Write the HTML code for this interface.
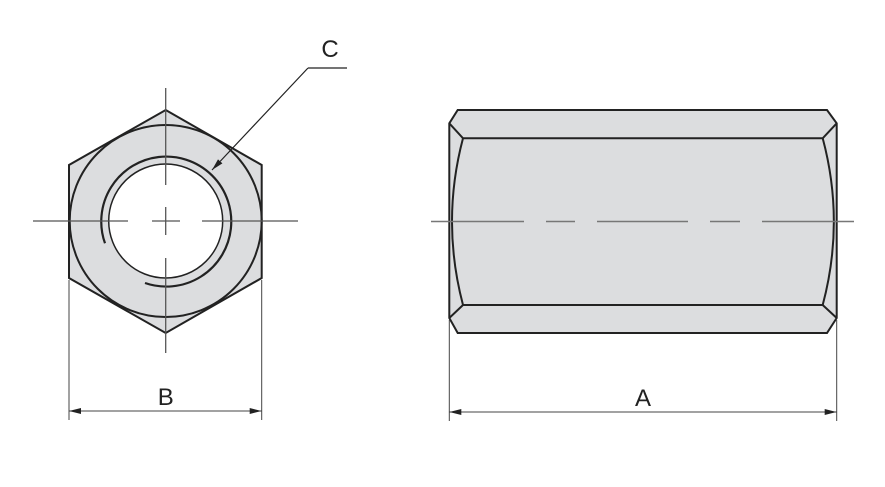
<!DOCTYPE html>
<html><head><style>
html,body{margin:0;padding:0;background:#fff;}
svg{display:block;}
text{font-family:"Liberation Sans",sans-serif;fill:#222;}
</style></head><body>
<svg width="885" height="487" viewBox="0 0 885 487" xmlns="http://www.w3.org/2000/svg">
<defs>
<marker id="ar" markerWidth="12" markerHeight="8" refX="12" refY="4" orient="auto" markerUnits="userSpaceOnUse">
<path d="M0,1 L12,4 L0,7 Z" fill="#222"/>
</marker>
</defs>
<!-- Left hex view -->
<polygon points="165.7,110 261.7,165 261.7,278 165.7,333 69,278 69,165" fill="#dcdddf" stroke="#222" stroke-width="2"/>
<circle cx="165.7" cy="221" r="96" fill="none" stroke="#222" stroke-width="2"/>
<circle cx="165.7" cy="221" r="57" fill="#fff" stroke="#222" stroke-width="1.5"/>
<path d="M105,243.3 A65,65 0 1 1 145,283" fill="none" stroke="#222" stroke-width="2.2"/>
<g stroke="#555" stroke-width="1.3">
<line x1="33" y1="221" x2="128" y2="221"/><line x1="152" y1="221" x2="180" y2="221"/><line x1="202" y1="221" x2="298" y2="221"/>
<line x1="165.7" y1="88" x2="165.7" y2="185"/><line x1="165.7" y1="207" x2="165.7" y2="235"/><line x1="165.7" y1="258" x2="165.7" y2="353"/>
</g>
<!-- leader C -->
<line x1="347" y1="68" x2="308" y2="68" stroke="#222" stroke-width="1.2"/>
<line x1="308" y1="68" x2="212" y2="170" stroke="#222" stroke-width="1.2" marker-end="url(#ar)"/>
<text x="330" y="57" font-size="24" text-anchor="middle">C</text>
<!-- dim B -->
<g stroke="#444" stroke-width="1">
<line x1="69" y1="280" x2="69" y2="420"/><line x1="261.7" y1="280" x2="261.7" y2="420"/>
<line x1="69" y1="411" x2="261.7" y2="411" marker-end="url(#ar)" marker-start="url(#arS)"/>
</g>
<path d="M69,411 L81,408 L81,414 Z" fill="#222"/>
<text x="165.7" y="405" font-size="24" text-anchor="middle">B</text>
<!-- Right view -->
<path d="M457.7,110 L827,110 L836.7,123.3 L836.7,318 L827,333 L457.7,333 L449.3,318 L449.3,123.3 Z" fill="#dcdddf" stroke="#222" stroke-width="2"/>
<g fill="none" stroke="#222" stroke-width="2">
<path d="M449.3,123.3 L463,138.3 L822.7,138.3 L836.7,123.3"/>
<path d="M449.3,318 L463,305 L822.7,305 L836.7,318"/>
<path d="M463,138.3 Q441,221.5 463,305"/>
<path d="M822.7,138.3 Q845,221.5 822.7,305"/>
</g>
<g stroke="#777" stroke-width="1.6">
<line x1="431" y1="221.5" x2="524" y2="221.5"/><line x1="546" y1="221.5" x2="575" y2="221.5"/>
<line x1="597" y1="221.5" x2="688" y2="221.5"/><line x1="710" y1="221.5" x2="740" y2="221.5"/>
<line x1="762" y1="221.5" x2="854" y2="221.5"/>
</g>
<!-- dim A -->
<g stroke="#444" stroke-width="1">
<line x1="449.3" y1="320" x2="449.3" y2="421"/><line x1="836.7" y1="320" x2="836.7" y2="421"/>
<line x1="449.3" y1="412" x2="836.7" y2="412" marker-end="url(#ar)"/>
</g>
<path d="M449.3,412 L461.3,409 L461.3,415 Z" fill="#222"/>
<text x="643" y="406" font-size="24" text-anchor="middle">A</text>
</svg>
</body></html>
